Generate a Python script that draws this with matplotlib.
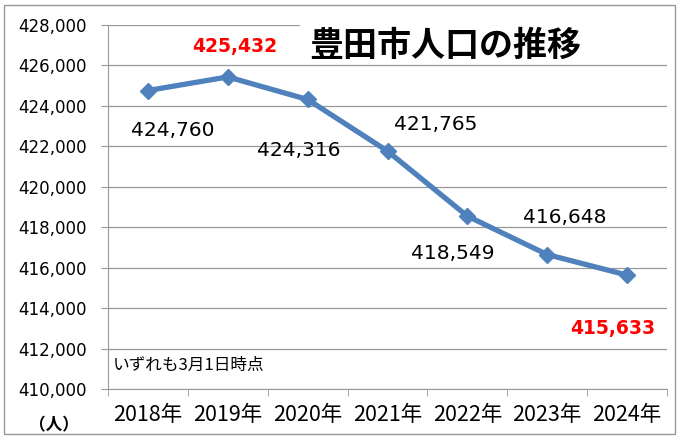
import matplotlib.pyplot as plt
from matplotlib.patches import Rectangle
from matplotlib.ticker import FuncFormatter

years = ["2018年", "2019年", "2020年", "2021年", "2022年", "2023年", "2024年"]
population = [424760, 425432, 424316, 421765, 418549, 416648, 415633]
# label offsets in pixels (dx, dy) relative to each point
label_offsets = [(25, -40), (7, 30), (-9, -51), (48, 27), (-15, -37), (18, 37), (-14, -53)]
highlight = [False, True, False, False, False, False, True]

plt.rcParams['font.family'] = ['DejaVu Sans', 'Noto Sans CJK JP']

fig = plt.figure(figsize=(6.79, 4.37), dpi=100)
ax = fig.add_axes([108/679, 1 - 389/437, 559/679, 364/437])

x = list(range(len(years)))
ax.plot(x, population, color='#4F81BD', lw=3.8, marker='D', ms=8.5, zorder=3)

ax.set_xlim(-0.5, len(years) - 0.5)
ax.set_ylim(410000, 428000)
ax.set_yticks(range(410000, 428001, 2000))
ax.yaxis.set_major_formatter(FuncFormatter(lambda v, p: f"{int(v):,}"))
ax.grid(axis='y', color='#999999', lw=0.9)
ax.set_axisbelow(True)

ax.set_xticks(x)
ax.set_xticklabels(years, family=['Noto Sans CJK JP'], fontsize=15.5)
ax.set_xticks([i - 0.5 for i in range(len(years) + 1)], minor=True)
ax.tick_params(axis='x', which='major', length=0, pad=11)
ax.tick_params(axis='x', which='minor', length=5, color='#999999')
ax.tick_params(axis='y', length=5, color='#999999', labelsize=12, pad=10)

for s in ['top', 'right']:
    ax.spines[s].set_visible(False)
for s in ['left', 'bottom']:
    ax.spines[s].set_color('#999999')

for i, v in enumerate(population):
    dx, dy = label_offsets[i]
    if highlight[i]:
        ax.annotate(f"{v:,}", (i, v), xytext=(dx, dy), textcoords='offset pixels',
                    ha='center', va='center', color='red', fontsize=13.5, fontweight='bold')
    else:
        ax.annotate(f"{v:,}", (i, v), xytext=(dx, dy), textcoords='offset pixels',
                    ha='center', va='center', color='black', fontsize=14.5)

# title, with a white patch covering the top gridline
fig.text(445/679, 1 - 45/437, "豊田市人口の推移", family=['Noto Sans CJK JP'],
         fontsize=24.5, fontweight='bold', ha='center', va='center', zorder=6)
fig.patches.append(Rectangle((300/679, 1 - 32/437), 368/679, 14/437,
                             transform=fig.transFigure, facecolor='white',
                             edgecolor='none', zorder=5))

ax.text(0.008, 0.065, "いずれも3月1日時点", transform=ax.transAxes,
        family=['Noto Sans CJK JP'], fontsize=12, ha='left', va='center')
fig.text(54/679, 1 - 425/437, "（人）", family=['Noto Sans CJK JP'],
         fontsize=12, fontweight='bold', ha='center', va='center')

fig.patches.append(Rectangle((4/679, 3/437), 671/679, 429/437, transform=fig.transFigure,
                             facecolor='none', edgecolor='#999999', lw=1.0))

fig.savefig('out.png', dpi=100)
